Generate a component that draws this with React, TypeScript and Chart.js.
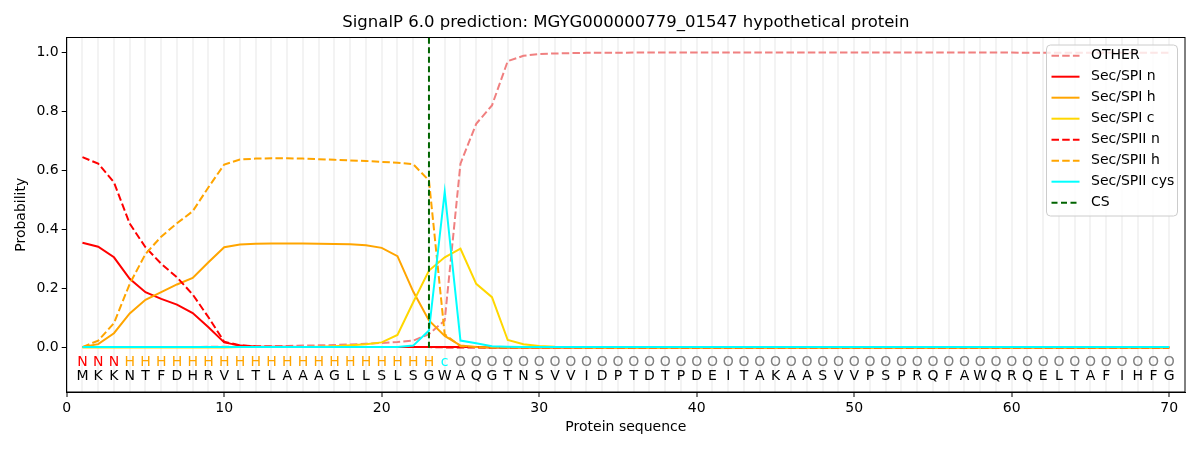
import React, { useEffect, useRef } from "react";
import Chart from "chart.js/auto";

// residue positions and sequence
const positions = [
  1, 2, 3, 4, 5, 6, 7, 8, 9, 10, 11, 12, 13, 14, 15, 16, 17, 18, 19, 20,
  21, 22, 23, 24, 25, 26, 27, 28, 29, 30, 31, 32, 33, 34, 35, 36, 37, 38, 39, 40,
  41, 42, 43, 44, 45, 46, 47, 48, 49, 50, 51, 52, 53, 54, 55, 56, 57, 58, 59, 60,
  61, 62, 63, 64, 65, 66, 67, 68, 69, 70,
];
const residues = "MKKNTFDHRVLTLAAAGLLSLSGWAQGTNSVVIDPTDTPDEITAKAASVVPSPRQFAWQRQELTAFIHFG".split("");
const predLabels = "NNNHHHHHHHHHHHHHHHHHHHHcOOOOOOOOOOOOOOOOOOOOOOOOOOOOOOOOOOOOOOOOOOOOOO".split("");
const csPos = 23;

// probabilities per position
const other = [
  0.002, 0.002, 0.002, 0.002, 0.002, 0.002, 0.002, 0.002, 0.003, 0.003,
  0.004, 0.004, 0.005, 0.006, 0.007, 0.008, 0.009, 0.011, 0.013, 0.016,
  0.019, 0.024, 0.046, 0.092, 0.623, 0.758, 0.82, 0.97, 0.988, 0.994,
  0.996, 0.997, 0.998, 0.998, 0.998, 0.999, 0.999, 0.999, 0.999, 0.999,
  0.999, 0.999, 0.999, 0.999, 0.999, 0.999, 0.999, 0.999, 0.999, 0.999,
  0.999, 0.999, 0.999, 0.999, 0.999, 0.999, 0.999, 0.999, 0.999, 0.999,
  0.998, 0.998, 0.998, 0.998, 0.998, 0.998, 0.998, 0.998, 0.998, 0.998,
];
const spiN = [
  0.355, 0.342, 0.306, 0.233, 0.188, 0.165, 0.146, 0.117, 0.069, 0.018,
  0.007, 0.004, 0.003, 0.003, 0.002, 0.002, 0.002, 0.002, 0.002, 0.002,
  0.002, 0.002, 0.002, 0.002, 0.002, 0.002, 0.001, 0.001, 0.001, 0.001,
  0.001, 0.001, 0.001, 0.001, 0.001, 0.001, 0.001, 0.001, 0.001, 0.001,
  0.001, 0.001, 0.001, 0.001, 0.001, 0.001, 0.001, 0.001, 0.001, 0.001,
  0.001, 0.001, 0.001, 0.001, 0.001, 0.001, 0.001, 0.001, 0.001, 0.001,
  0.001, 0.001, 0.001, 0.001, 0.001, 0.001, 0.001, 0.001, 0.001, 0.001,
];
const spiH = [
  0.002, 0.012, 0.049, 0.116, 0.162, 0.188, 0.214, 0.236, 0.289, 0.34,
  0.349, 0.352, 0.353, 0.353, 0.353, 0.352, 0.351, 0.35, 0.347, 0.338,
  0.31, 0.19, 0.092, 0.04, 0.007, 0.002, 0.001, 0.001, 0.001, 0.001,
  0.001, 0.001, 0.001, 0.001, 0.001, 0.001, 0.001, 0.001, 0.001, 0.001,
  0.001, 0.001, 0.001, 0.001, 0.001, 0.001, 0.001, 0.001, 0.001, 0.001,
  0.001, 0.001, 0.001, 0.001, 0.001, 0.001, 0.001, 0.001, 0.001, 0.001,
  0.001, 0.001, 0.001, 0.001, 0.001, 0.001, 0.001, 0.001, 0.001, 0.001,
];
const spiC = [
  0.001, 0.001, 0.001, 0.001, 0.001, 0.001, 0.001, 0.001, 0.001, 0.001,
  0.002, 0.002, 0.002, 0.002, 0.002, 0.003, 0.005, 0.008, 0.012, 0.018,
  0.043, 0.154, 0.261, 0.306, 0.335, 0.216, 0.171, 0.026, 0.012, 0.006,
  0.003, 0.002, 0.001, 0.001, 0.001, 0.001, 0.001, 0.001, 0.001, 0.001,
  0.001, 0.001, 0.001, 0.001, 0.001, 0.001, 0.001, 0.001, 0.001, 0.001,
  0.001, 0.001, 0.001, 0.001, 0.001, 0.001, 0.001, 0.001, 0.001, 0.001,
  0.001, 0.001, 0.001, 0.001, 0.001, 0.001, 0.001, 0.001, 0.001, 0.001,
];
const spiiN = [
  0.645, 0.623, 0.56, 0.42, 0.34, 0.284, 0.238, 0.18, 0.103, 0.02,
  0.008, 0.004, 0.003, 0.002, 0.002, 0.002, 0.002, 0.002, 0.002, 0.002,
  0.002, 0.002, 0.002, 0.001, 0.001, 0.001, 0.001, 0.001, 0.001, 0.001,
  0.001, 0.001, 0.001, 0.001, 0.001, 0.001, 0.001, 0.001, 0.001, 0.001,
  0.001, 0.001, 0.001, 0.001, 0.001, 0.001, 0.001, 0.001, 0.001, 0.001,
  0.001, 0.001, 0.001, 0.001, 0.001, 0.001, 0.001, 0.001, 0.001, 0.001,
  0.001, 0.001, 0.001, 0.001, 0.001, 0.001, 0.001, 0.001, 0.001, 0.001,
];
const spiiH = [
  0.002, 0.024, 0.083, 0.216, 0.317, 0.376, 0.421, 0.462, 0.543, 0.62,
  0.637, 0.64, 0.641, 0.641, 0.64, 0.638, 0.636, 0.634, 0.632, 0.629,
  0.626, 0.621, 0.566, 0.045, 0.005, 0.002, 0.001, 0.001, 0.001, 0.001,
  0.001, 0.001, 0.001, 0.001, 0.001, 0.001, 0.001, 0.001, 0.001, 0.001,
  0.001, 0.001, 0.001, 0.001, 0.001, 0.001, 0.001, 0.001, 0.001, 0.001,
  0.001, 0.001, 0.001, 0.001, 0.001, 0.001, 0.001, 0.001, 0.001, 0.001,
  0.001, 0.001, 0.001, 0.001, 0.001, 0.001, 0.001, 0.001, 0.001, 0.001,
];
const spiiCys = [
  0.002, 0.002, 0.002, 0.002, 0.002, 0.002, 0.002, 0.002, 0.002, 0.002,
  0.002, 0.002, 0.002, 0.002, 0.002, 0.002, 0.002, 0.002, 0.002, 0.002,
  0.002, 0.007, 0.058, 0.527, 0.024, 0.015, 0.005, 0.003, 0.002, 0.002,
  0.002, 0.002, 0.002, 0.002, 0.002, 0.002, 0.002, 0.002, 0.002, 0.002,
  0.002, 0.002, 0.002, 0.002, 0.002, 0.002, 0.002, 0.002, 0.002, 0.002,
  0.002, 0.002, 0.002, 0.002, 0.002, 0.002, 0.002, 0.002, 0.002, 0.002,
  0.002, 0.002, 0.002, 0.002, 0.002, 0.002, 0.002, 0.002, 0.002, 0.002,
];

const xTicks = [0, 1, 2, 3, 4, 5, 6, 7, 8, 9, 10, 11, 12, 13, 14, 15, 16, 17, 18, 19, 20,
  21, 22, 23, 24, 25, 26, 27, 28, 29, 30, 31, 32, 33, 34, 35, 36, 37, 38, 39, 40,
  41, 42, 43, 44, 45, 46, 47, 48, 49, 50, 51, 52, 53, 54, 55, 56, 57, 58, 59, 60,
  61, 62, 63, 64, 65, 66, 67, 68, 69, 70];
const yTicks = [0, 0.2, 0.4, 0.6, 0.8, 1.0];

const DASH = [7.5, 3.2];
const FONT = '"DejaVu Sans"';

const series = [
  { label: "OTHER", data: other, color: "#f08080", dash: DASH },
  { label: "Sec/SPI n", data: spiN, color: "#ff0000", dash: [] },
  { label: "Sec/SPI h", data: spiH, color: "#ffa500", dash: [] },
  { label: "Sec/SPI c", data: spiC, color: "#ffd700", dash: [] },
  { label: "Sec/SPII n", data: spiiN, color: "#ff0000", dash: DASH },
  { label: "Sec/SPII h", data: spiiH, color: "#ffa500", dash: DASH },
  { label: "Sec/SPII cys", data: spiiCys, color: "#00ffff", dash: [] },
];
const csStyle = { label: "CS", color: "#006400", dash: [6, 3.5] };

const labelColors: Record<string, string> = { N: "#ff0000", H: "#ffa500", c: "#00ffff", O: "#808080" };

const decor = {
  id: "decor",
  afterDraw(chart: any) {
    const { ctx, chartArea } = chart;
    const xs = chart.scales.x;
    const ys = chart.scales.y;
    ctx.save();

    // frame
    ctx.strokeStyle = "#000";
    ctx.lineWidth = 1;
    ctx.strokeRect(chartArea.left, chartArea.top, chartArea.right - chartArea.left, chartArea.bottom - chartArea.top);

    // title
    ctx.fillStyle = "#000";
    ctx.font = `16.5px ${FONT}`;
    ctx.textAlign = "center";
    ctx.textBaseline = "middle";
    ctx.fillText("SignalP 6.0 prediction: MGYG000000779_01547 hypothetical protein", (chartArea.left + chartArea.right) / 2, 23);

    // sequence and predicted labels
    ctx.font = `14px ${FONT}`;
    residues.forEach((aa, i) => {
      const px = xs.getPixelForValue(positions[i]);
      ctx.fillStyle = labelColors[predLabels[i]];
      ctx.fillText(predLabels[i], px, ys.getPixelForValue(-0.048));
      ctx.fillStyle = "#000";
      ctx.fillText(aa, px, ys.getPixelForValue(-0.098));
    });

    // legend
    const entries = [...series, csStyle];
    const bx = chartArea.right - 138.5;
    const by = chartArea.top + 7.5;
    const bw = 131;
    const bh = 171;
    ctx.beginPath();
    ctx.roundRect(bx, by, bw, bh, 4);
    ctx.fillStyle = "rgba(255,255,255,0.8)";
    ctx.fill();
    ctx.strokeStyle = "#cccccc";
    ctx.lineWidth = 1;
    ctx.stroke();
    ctx.textAlign = "left";
    entries.forEach((e, k) => {
      const cy = by + 10.7 + k * 21;
      ctx.beginPath();
      ctx.setLineDash(e.dash);
      ctx.strokeStyle = e.color;
      ctx.lineWidth = 2;
      ctx.moveTo(bx + 5, cy);
      ctx.lineTo(bx + 33, cy);
      ctx.stroke();
      ctx.setLineDash([]);
      ctx.fillStyle = "#000";
      ctx.fillText(e.label, bx + 44.5, cy);
    });
    ctx.restore();
  },
};

const App = () => {
  const chartRef = useRef<HTMLCanvasElement>(null);

  useEffect(() => {
    document.body.style.margin = "0";
    const ctx = chartRef.current!.getContext("2d")!;
    Chart.defaults.font.family = FONT;

    const datasets: any[] = series.map((s, i) => ({
      label: s.label,
      data: positions.map((p, j) => ({ x: p, y: s.data[j] })),
      borderColor: s.color,
      backgroundColor: s.color,
      borderDash: s.dash,
      borderWidth: 2,
      pointRadius: 0,
      tension: 0,
      fill: false,
      order: 10 - i,
    }));
    datasets.push({
      label: csStyle.label,
      data: [{ x: csPos, y: 0 }, { x: csPos, y: 1.05 }],
      borderColor: csStyle.color,
      borderDash: csStyle.dash,
      borderWidth: 2,
      pointRadius: 0,
      fill: false,
      order: 1,
    });

    const tickFont = { family: FONT, size: 14 };

    const chart = new Chart(ctx, {
      type: "line",
      data: { datasets },
      options: {
        animation: false,
        responsive: false,
        events: [],
        layout: { padding: { top: 37.5, right: 15, left: 0, bottom: 0 } },
        plugins: { legend: { display: false }, title: { display: false }, tooltip: { enabled: false } },
        scales: {
          x: {
            type: "linear",
            min: 0,
            max: 71,
            afterBuildTicks: (s: any) => {
              s.ticks = xTicks.map((v) => ({ value: v }));
            },
            afterFit: (s: any) => {
              s.height = 58;
            },
            ticks: {
              autoSkip: false,
              maxRotation: 0,
              padding: 3,
              color: "#000",
              font: tickFont,
              callback: (v: any) => (v % 10 === 0 ? String(v) : ""),
            },
            grid: {
              color: (c: any) => (c.tick && c.tick.value >= 1 && c.tick.value <= 70 ? "#f3f3f3" : "rgba(0,0,0,0)"),
              lineWidth: 2,
              tickLength: 5,
              tickWidth: 1,
              tickColor: (c: any) => (c.tick && c.tick.value % 10 === 0 ? "#000" : "rgba(0,0,0,0)"),
            },
            border: { display: true, color: "#000", width: 1 },
            title: {
              display: true,
              text: "Protein sequence",
              color: "#000",
              font: tickFont,
              padding: { top: 0, bottom: 14.5 },
            },
          },
          y: {
            type: "linear",
            min: -0.15,
            max: 1.05,
            afterBuildTicks: (s: any) => {
              s.ticks = yTicks.map((v) => ({ value: v }));
            },
            afterFit: (s: any) => {
              s.width = 66.7;
            },
            ticks: {
              padding: 3,
              color: "#000",
              font: tickFont,
              callback: (v: any) => Number(v).toFixed(1),
            },
            grid: {
              drawOnChartArea: false,
              tickLength: 5,
              tickWidth: 1,
              tickColor: "#000",
            },
            border: { display: true, color: "#000", width: 1 },
            title: {
              display: true,
              text: "Probability",
              color: "#000",
              font: tickFont,
              padding: { top: 12.5, bottom: 0 },
            },
          },
        },
      },
      plugins: [decor],
    });

    return () => {
      chart.destroy();
    };
  }, []);

  return (
    <div style={{ width: 1200, height: 450 }}>
      <canvas ref={chartRef} width={1200} height={450} style={{ width: 1200, height: 450 }} />
    </div>
  );
};

export default App;
